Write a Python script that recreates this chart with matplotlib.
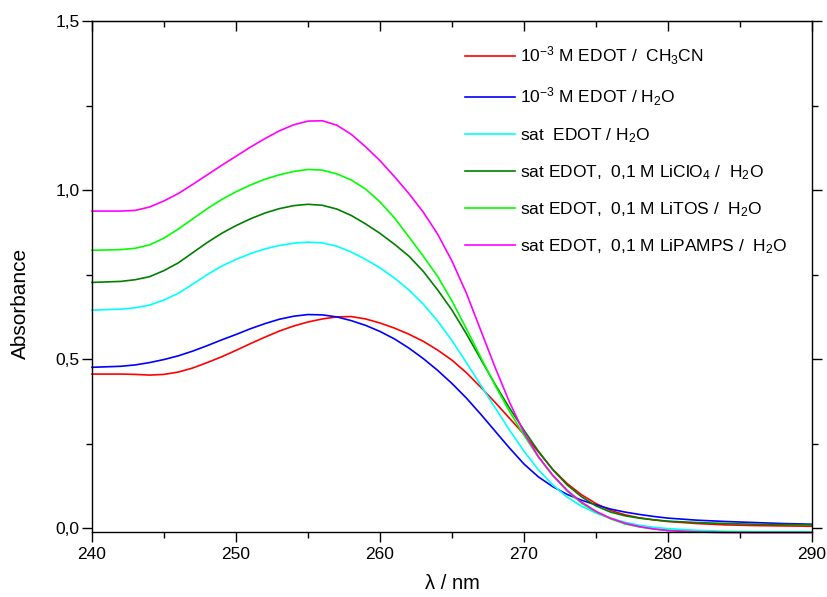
import numpy as np
import matplotlib
matplotlib.use("Agg")
from matplotlib import pyplot as plt
from matplotlib.ticker import MultipleLocator, FixedLocator, FixedFormatter

# wavelengths (nm) shared by all spectra
wl = [240, 242] + list(range(243, 281)) + [282, 284, 286, 288, 290]

# absorbance values
a_ch3cn = [0.456, 0.456, 0.455, 0.453, 0.455, 0.462, 0.474, 0.490, 0.507, 0.526, 0.546, 0.565,
           0.583, 0.598, 0.610, 0.619, 0.625, 0.626, 0.619, 0.607, 0.592, 0.574, 0.553, 0.527,
           0.497, 0.460, 0.417, 0.372, 0.325, 0.278, 0.226, 0.174, 0.132, 0.099, 0.073, 0.053,
           0.040, 0.031, 0.025, 0.020, 0.014, 0.010, 0.008, 0.007, 0.006]
a_h2o = [0.476, 0.479, 0.483, 0.490, 0.499, 0.510, 0.524, 0.540, 0.557, 0.573, 0.590, 0.605,
         0.618, 0.627, 0.632, 0.631, 0.625, 0.614, 0.600, 0.582, 0.560, 0.533, 0.502, 0.467,
         0.428, 0.385, 0.337, 0.287, 0.237, 0.190, 0.152, 0.123, 0.100, 0.083, 0.069, 0.057,
         0.048, 0.041, 0.035, 0.030, 0.024, 0.020, 0.017, 0.014, 0.012]
a_sat = [0.645, 0.648, 0.652, 0.660, 0.675, 0.695, 0.722, 0.750, 0.775, 0.795, 0.812, 0.826,
         0.836, 0.843, 0.846, 0.844, 0.834, 0.817, 0.795, 0.770, 0.740, 0.705, 0.663, 0.613,
         0.555, 0.490, 0.423, 0.356, 0.290, 0.228, 0.173, 0.128, 0.092, 0.065, 0.045, 0.030,
         0.018, 0.009, 0.003, -0.001, -0.006, -0.009, -0.010, -0.010, -0.010]
a_clo4 = [0.727, 0.730, 0.735, 0.744, 0.762, 0.785, 0.815, 0.845, 0.872, 0.895, 0.915, 0.932,
          0.945, 0.954, 0.958, 0.955, 0.944, 0.925, 0.900, 0.872, 0.840, 0.805, 0.760, 0.705,
          0.645, 0.575, 0.500, 0.425, 0.355, 0.290, 0.228, 0.173, 0.128, 0.093, 0.066, 0.048,
          0.037, 0.030, 0.025, 0.021, 0.017, 0.014, 0.012, 0.011, 0.010]
a_tos = [0.822, 0.824, 0.828, 0.838, 0.858, 0.885, 0.915, 0.945, 0.972, 0.995, 1.015, 1.032,
         1.045, 1.055, 1.061, 1.059, 1.048, 1.030, 1.003, 0.965, 0.918, 0.862, 0.805, 0.745,
         0.672, 0.590, 0.505, 0.422, 0.345, 0.275, 0.210, 0.155, 0.110, 0.074, 0.048, 0.028,
         0.013, 0.004, -0.002, -0.006, -0.010, -0.011, -0.012, -0.012, -0.012]
a_pamps = [0.938, 0.938, 0.940, 0.950, 0.968, 0.990, 1.017, 1.045, 1.073, 1.100, 1.127, 1.152,
           1.175, 1.193, 1.204, 1.205, 1.192, 1.165, 1.128, 1.087, 1.040, 0.990, 0.935, 0.870,
           0.790, 0.695, 0.585, 0.475, 0.372, 0.283, 0.212, 0.157, 0.112, 0.077, 0.050, 0.030,
           0.015, 0.005, -0.002, -0.007, -0.011, -0.013, -0.013, -0.013, -0.013]

labels = [r"10$^{-3}$ M EDOT /  CH$_3$CN",
          r"10$^{-3}$ M EDOT / H$_2$O",
          r"sat  EDOT / H$_2$O",
          r"sat EDOT,  0,1 M LiClO$_4$ /  H$_2$O",
          r"sat EDOT,  0,1 M LiTOS /  H$_2$O",
          r"sat EDOT,  0,1 M LiPAMPS /  H$_2$O"]
colors = ["#ff0000", "#0000ff", "#00ffff", "#007f00", "#00ff00", "#ff00ff"]

plt.rcParams["font.family"] = ["Liberation Sans", "DejaVu Sans"]
plt.rcParams["mathtext.fontset"] = "custom"
plt.rcParams["mathtext.rm"] = "Liberation Sans"
plt.rcParams["mathtext.it"] = "Liberation Sans"
plt.rcParams["mathtext.default"] = "regular"

fig = plt.figure(figsize=(8.28, 5.97), dpi=100)
ax = fig.add_axes([92/828, 1-532/597, 720/828, 511/597])

series = [a_ch3cn, a_h2o, a_sat, a_clo4, a_tos, a_pamps]
for y, lab, c in zip(series, labels, colors):
  ax.plot(wl, y, color=c, lw=1.2, label=lab, clip_on=False)

ax.set_xlim(240, 290)
ax.set_ylim(-0.011, 1.5)
ax.xaxis.set_major_locator(MultipleLocator(10))
ax.xaxis.set_minor_locator(MultipleLocator(5))
ax.yaxis.set_major_locator(FixedLocator([0, 0.5, 1.0, 1.5]))
ax.yaxis.set_major_formatter(FixedFormatter(["0,0", "0,5", "1,0", "1,5"]))
ax.yaxis.set_minor_locator(FixedLocator([0.25, 0.75, 1.25]))
ax.tick_params(axis="both", which="major", direction="out", length=7, width=1, labelsize=12.5)
ax.tick_params(axis="both", which="minor", direction="out", length=4, width=1)
ax.tick_params(axis="y", right=True, which="both")
ax.tick_params(axis="y", pad=2)
for s in ax.spines.values():
  s.set_linewidth(1)

# ticks inward on the top edge
top = ax.secondary_xaxis("top")
top.xaxis.set_major_locator(MultipleLocator(10))
top.xaxis.set_minor_locator(MultipleLocator(5))
top.tick_params(which="major", direction="in", length=7, width=1, labeltop=False)
top.tick_params(which="minor", direction="in", length=4, width=1)

ax.set_xlabel("λ / nm", fontsize=14.5, labelpad=9)
ax.set_ylabel("Absorbance", fontsize=15)
ax.yaxis.set_label_coords(-0.086, 0.448)

ax.legend(loc="upper left", bbox_to_anchor=(449/828, 1-29/597), bbox_transform=fig.transFigure,
          frameon=False, fontsize=12.5, handlelength=2.9, handletextpad=0.3, labelspacing=1.05)

fig.savefig("out.png", dpi=100)
